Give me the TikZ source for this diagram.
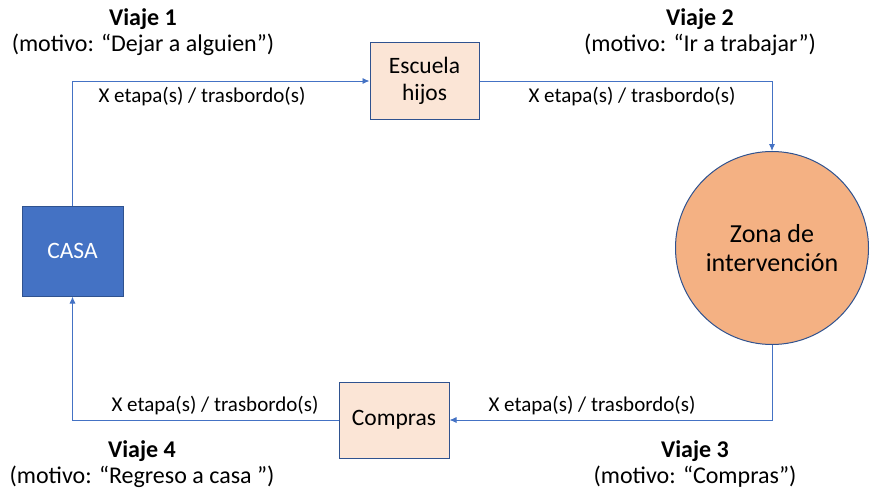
\documentclass[tikz,border=0pt]{standalone}
\usepackage{fontspec}
\setmainfont{Carlito}
\usetikzlibrary{arrows.meta,positioning,shapes}
\definecolor{casablue}{HTML}{4472C4}
\definecolor{rimblue}{HTML}{2F528F}
\definecolor{peachlight}{HTML}{FBE5D6}
\definecolor{peach}{HTML}{F4B183}

\begin{document}
\begin{tikzpicture}[x=1pt, y=-1pt]

  % Define styles
  \tikzset{
    casanode/.style={draw=rimblue, line width=1pt, fill=casablue, text=white, minimum width=101pt, minimum height=90pt, font=\fontsize{23.5}{27}\selectfont},
    placenode/.style={draw=rimblue, line width=1pt, fill=peachlight, minimum width=109pt, minimum height=77pt, align=center, font=\fontsize{23.5}{27}\selectfont},
    zonanode/.style={draw=rimblue, line width=1pt, fill=peach, circle, minimum size=193pt, align=center, font=\fontsize{26}{29}\selectfont},
    trip/.style={draw=casablue, line width=0.9pt, -{Latex[length=7pt,width=6pt]}},
    hoplabel/.style={font=\fontsize{21}{24}\selectfont},
    tripname/.style={align=center, font=\fontsize{24}{26}\selectfont}
  }

  \useasboundingbox (0,0) rectangle (870,493);

  % Nodes
  \node[casanode] (casa) at (72.5,251) {CASA};
  \node[placenode] (escuela) at (424.5,81) {Escuela\\hijos};
  \node[zonanode] (zona) at (772,248) {Zona de\\intervención};
  \node[placenode, minimum width=110pt, minimum height=76pt] (compras) at (394,420) {Compras};

  % Connectors
  \draw[trip] (casa.north) |- (escuela.west);
  \draw[trip] (escuela.east) -| (zona.north);
  \draw[trip] (zona.south) |- (compras.east);
  \draw[trip] (compras.west) -| (casa.south);

  % Labels
  \node[hoplabel] (hop1) at (202,97) {X etapa(s) / trasbordo(s)};
  \node[hoplabel] (hop2) at (632,97) {X etapa(s) / trasbordo(s)};
  \node[hoplabel] (hop3) at (592,406) {X etapa(s) / trasbordo(s)};
  \node[hoplabel] (hop4) at (215,406) {X etapa(s) / trasbordo(s)};

  \node[tripname] (viaje1) at (143,32) {\textbf{Viaje 1}\\(motivo: “Dejar a alguien”)};
  \node[tripname] (viaje2) at (700,32) {\textbf{Viaje 2}\\(motivo: “Ir a trabajar”)};
  \node[tripname] (viaje3) at (695,464) {\textbf{Viaje 3}\\(motivo: “Compras”)};
  \node[tripname] (viaje4) at (142,464) {\textbf{Viaje 4}\\(motivo: “Regreso a casa ”)};

\end{tikzpicture}
\end{document}
